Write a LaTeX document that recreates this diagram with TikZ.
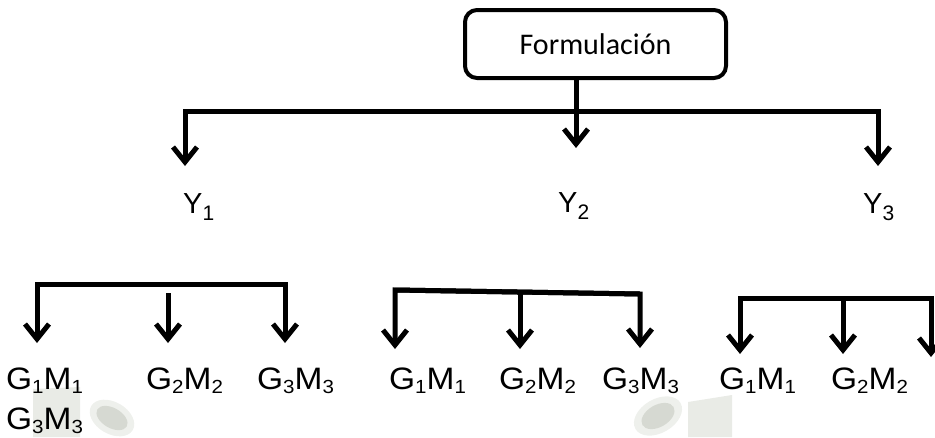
\documentclass[tikz,border=0pt]{standalone}
\usepackage{fontspec}
\setmainfont{Liberation Sans}
\newfontfamily\calibfont{Carlito}
\newfontfamily\arialx[FakeStretch=1.08]{Liberation Sans}
\usetikzlibrary{arrows.meta}
\definecolor{blobrect}{HTML}{E9EBE6}
\definecolor{blobcore}{HTML}{D6D9D2}
\definecolor{blobhalo}{HTML}{EEF0EC}
\newcommand{\gmlab}[2]{G\raisebox{-4pt}{\fontsize{19}{19}\selectfont #1}M\raisebox{-4pt}{\fontsize{19}{19}\selectfont #2}}
\newcommand{\ylab}[1]{Y\raisebox{-7pt}{\fontsize{21}{21}\selectfont #1}}
\begin{document}
\begin{tikzpicture}[x=1pt,y=-1pt,
  conn/.style={line width=5pt, line join=miter},
  arr/.style={conn, -{Straight Barb[length=15pt,width=24pt]}},
  gmtext/.style={anchor=base west, inner sep=0pt, font=\arialx\fontsize{31}{31}\selectfont},
  ytext/.style={anchor=base west, inner sep=0pt, font=\fontsize{29}{29}\selectfont},
  boxnode/.style={draw, line width=4pt, rounded corners=12pt, minimum width=261pt,
    minimum height=68pt, inner sep=0pt, font=\calibfont\fontsize{30}{30}\selectfont}]
\useasboundingbox (0,0) rectangle (935,437);

% faint background blobs
\fill[blobrect] (33,389) -- (80,387) -- (80,437) -- (33,437) -- cycle;
\fill[blobhalo, rotate around={-30:(112,418)}] (112,418) ellipse (24 and 16);
\fill[blobcore, rotate around={-30:(112,418)}] (112,418) ellipse (17 and 10);
\fill[blobhalo, rotate around={30:(658,416)}] (658,416) ellipse (26 and 17);
\fill[blobcore, rotate around={30:(658,416)}] (658,416) ellipse (18 and 11);
\fill[blobrect] (688,402) -- (732,395) -- (732,437) -- (688,437) -- cycle;

% top box
\node[boxnode] (form) at (595.5,44) {Formulación};

% top level coordinates
\coordinate (topM) at (576,111);
\coordinate (hubL) at (185,111);
\coordinate (hubR) at (878,111);
\coordinate (tipY1) at (185,166);
\coordinate (tipY2) at (576,148);
\coordinate (tipY3) at (878,166);

\draw[arr] (form.south -| topM) -- (tipY2);
\draw[arr] (hubR) -- (hubL) -- (tipY1);
\draw[arr] (hubL) -- (hubR) -- (tipY3);

\node[ytext] (y1) at (183,213) {\ylab{1}};
\node[ytext] (y2) at (558,212) {\ylab{2}};
\node[ytext] (y3) at (863,213) {\ylab{3}};

% group 1
\coordinate (h1L) at (37,284);
\coordinate (h1R) at (285,284);
\coordinate (h1M) at (168,293);
\coordinate (t1a) at (37,343);
\coordinate (t1b) at (168,343);
\coordinate (t1c) at (285,343);
\draw[arr] (h1R) -- (h1L) -- (t1a);
\draw[arr] (h1L) -- (h1R) -- (t1c);
\draw[arr] (h1M) -- (t1b);

% group 2
\coordinate (h2L) at (395,290);
\coordinate (h2R) at (640,294);
\coordinate (h2M) at (520,292);
\coordinate (t2a) at (395,349);
\coordinate (t2b) at (520,349);
\coordinate (t2c) at (640,348);
\draw[arr] (h2R) -- (h2L) -- (t2a);
\draw[arr] (h2L) -- (h2R) -- (t2c);
\draw[arr] (h2M) -- (t2b);

% group 3
\coordinate (h3L) at (740,298);
\coordinate (h3R) at (931,298);
\coordinate (h3M) at (843,298);
\coordinate (t3a) at (740,354);
\coordinate (t3b) at (843,354);
\coordinate (t3c) at (931,357);
\draw[arr] (h3R) -- (h3L) -- (t3a);
\draw[arr] (h3L) -- (h3R) -- (t3c);
\draw[arr] (h3M) -- (t3b);

% labels
\node[gmtext] (g1a) at (6,389) {\gmlab{1}{1}};
\node[gmtext] (g1b) at (146,389) {\gmlab{2}{2}};
\node[gmtext] (g1c) at (257,389) {\gmlab{3}{3}};
\node[gmtext] (g1d) at (6,429) {\gmlab{3}{3}};
\node[gmtext] (g2a) at (389,389) {\gmlab{1}{1}};
\node[gmtext] (g2b) at (499,389) {\gmlab{2}{2}};
\node[gmtext] (g2c) at (602,389) {\gmlab{3}{3}};
\node[gmtext] (g3a) at (719,389) {\gmlab{1}{1}};
\node[gmtext] (g3b) at (831,389) {\gmlab{2}{2}};
\end{tikzpicture}
\end{document}
